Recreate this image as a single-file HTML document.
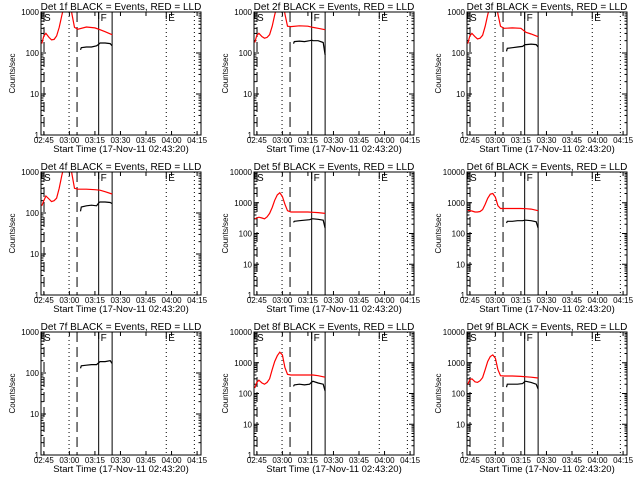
<!DOCTYPE html>
<html><head><meta charset="utf-8"><style>
html,body{margin:0;padding:0;background:#fff;}
svg{display:block;}
text{font-family:"Liberation Sans",sans-serif;}
</style></head><body>
<svg id="chart" width="640" height="480" viewBox="0 0 640 480" xmlns="http://www.w3.org/2000/svg"></svg>
<script>
const detNames = ["1f","2f","3f","4f","5f","6f","7f","8f","9f"];
const yMaxes = [1000,1000,1000,1000,10000,10000,1000,10000,10000];
const xTickLabels = ["02:45","03:00","03:15","03:30","03:45","04:00","04:15"];
const xTickMinutes = [0,15,30,45,60,75,90];
const dashedLines = [0.1,19.5];
const dottedLines = [14.8,71.9,88.4];
const solidLines = [32.2,40.1];
const tRed = [-1.2,0,1.2,3,4.5,6,7.5,9,10.5,12,13.5,15,16.5,18,20,25,30,33,36,40.1];
const tBlack = [21.5,22,25,28,31,32.4,33,36,39,40.1];
const red1 = [170,260,300,240,210,215,260,420,800,1500,3000,3000,900,420,380,430,410,370,330,280];
const red2 = [180,270,300,250,230,240,280,450,850,1500,3000,3000,900,450,440,460,450,420,400,370];
const red3 = [170,260,300,250,220,230,270,450,850,1500,3000,3000,900,450,400,410,400,320,290,250];
const red4 = [150,200,260,220,190,200,230,400,800,1500,3000,3000,900,400,380,380,370,360,330,290];
const red5 = [300,320,340,320,300,350,450,700,1200,1800,2100,1600,900,550,500,500,500,490,480,450];
const red6 = [560,550,540,500,500,520,600,900,1400,1900,2000,1500,800,650,650,650,650,640,620,550];
const red7 = [];
const red8 = [150,230,270,220,200,230,300,600,1100,1700,2200,1800,700,420,400,400,400,400,380,340];
const red9 = [200,280,300,240,230,260,330,600,1100,1600,1800,1400,600,380,370,370,360,350,340,320];
const black1 = [120,135,140,140,150,165,175,175,170,150];
const black2 = [170,190,195,190,200,205,200,200,180,90];
const black3 = [110,130,135,140,145,160,160,165,160,140];
const black4 = [110,140,150,155,150,180,185,185,180,170];
const black5 = [230,250,260,270,280,300,300,290,270,150];
const black6 = [220,250,250,260,260,270,270,260,240,150];
const black7 = [130,150,155,160,160,180,190,190,200,170];
const black8 = [170,190,200,190,200,240,250,220,200,120];
const black9 = [160,200,200,200,210,250,250,230,200,140];
const reds = [red1,red2,red3,red4,red5,red6,red7,red8,red9];
const blacks = [black1,black2,black3,black4,black5,black6,black7,black8,black9];

const NS = "http://www.w3.org/2000/svg";
const svg = document.getElementById("chart");
function mk(tag, attrs, parent){
  const e = document.createElementNS(NS, tag);
  for (const k in attrs) e.setAttribute(k, attrs[k]);
  (parent||svg).appendChild(e);
  return e;
}
const T0 = -1.67, T1 = 92.3;
for (let p = 0; p < 9; p++) {
  const col = p % 3, row = Math.floor(p / 3);
  const L = 41 + col * 213, R = L + 160, Tp = 12 + row * 160, B = Tp + 123;
  const yMax = yMaxes[p];
  const decades = Math.round(Math.log10(yMax));
  const xs = t => L + (t - T0) / (T1 - T0) * (R - L);
  const ys = v => B - Math.log10(v) / decades * (B - Tp);
  const g = mk("g", {});
  
  
  const cp = mk("clipPath", {id: "cp" + p}, g);
  mk("rect", {x: L, y: Tp, width: R - L, height: B - Tp}, cp);

  const title = mk("text", {x: (L + R) / 2, y: Tp - 2, "text-anchor": "middle", "font-size": "10"}, g);
  title.textContent = "Det " + detNames[p] + " BLACK = Events, RED = LLD";
  
  

  const yt = mk("text", {x: 0, y: 0, "text-anchor": "middle", "font-size": "8", transform: "translate(" + (L - 26) + "," + ((Tp + B) / 2) + ") rotate(-90)"}, g);
  yt.textContent = "Counts/sec";
  
  

  const xt = mk("text", {x: (L + R) / 2, y: B + 17, "text-anchor": "middle", "font-size": "9.5"}, g);
  xt.textContent = "Start Time (17-Nov-11 02:43:20)";
  
  

  for (let d = 0; d <= decades; d++) {
    const v = Math.pow(10, d), y = ys(v);
    mk("line", {x1: L, x2: L + 5, y1: y, y2: y, stroke: "#000"}, g);
    mk("line", {x1: R, x2: R - 5, y1: y, y2: y, stroke: "#000"}, g);
    const lab = mk("text", {x: L - 2, y: y + 3, "text-anchor": "end", "font-size": "8"}, g);
    lab.textContent = String(v);
    
    
    if (d < decades) for (let m = 2; m <= 9; m++) {
      const ym = ys(v * m);
      mk("line", {x1: L, x2: L + 2.5, y1: ym, y2: ym, stroke: "#000"}, g);
      mk("line", {x1: R, x2: R - 2.5, y1: ym, y2: ym, stroke: "#000"}, g);
    }
  }
  for (let i = 0; i < xTickMinutes.length; i++) {
    const x = xs(xTickMinutes[i]);
    mk("line", {x1: x, x2: x, y1: B, y2: B - 4, stroke: "#000"}, g);
    mk("line", {x1: x, x2: x, y1: Tp, y2: Tp + 4, stroke: "#000"}, g);
    const lab = mk("text", {x: x, y: B + 8, "text-anchor": "middle", "font-size": "8"}, g);
    lab.textContent = xTickLabels[i];
    
    
  }
  dashedLines.forEach(t => mk("line", {x1: xs(t), x2: xs(t), y1: Tp, y2: B, stroke: "#000", "stroke-dasharray": "10,5"}, g));
  dottedLines.forEach(t => mk("line", {x1: xs(t), x2: xs(t), y1: Tp, y2: B, stroke: "#000", "stroke-dasharray": "1,3"}, g));
  solidLines.forEach(t => mk("line", {x1: xs(t), x2: xs(t), y1: Tp, y2: B, stroke: "#000"}, g));
  [["S", L + 1], ["F", xs(solidLines[0])], ["E", xs(dottedLines[1])]].forEach(([ch, x]) => {
    mk("path", {d: "M" + x + "," + (Tp + 7) + " V" + Tp + " H" + (x + 10), fill: "none", stroke: "#000"}, g);
    const t = mk("text", {x: x + 2, y: Tp + 9, "font-size": "10"}, g);
    t.textContent = ch;
    
    
  });
  const rv = reds[p];
  if (rv.length) {
    const pts = rv.map((v, i) => xs(tRed[i]).toFixed(1) + "," + ys(v).toFixed(1)).join(" ");
    const pl = mk("polyline", {points: pts, fill: "none", stroke: "#ff0000", "stroke-width": "1.2", "clip-path": "url(#cp" + p + ")"}, g);
    
    
  }
  const bv = blacks[p];
  const bpts = bv.map((v, i) => xs(tBlack[i]).toFixed(1) + "," + ys(v).toFixed(1)).join(" ");
  const bl = mk("polyline", {points: bpts, fill: "none", stroke: "#000", "stroke-width": "1.2", "clip-path": "url(#cp" + p + ")"}, g);
  
  
  const fr = mk("rect", {x: L, y: Tp, width: R - L, height: B - Tp, fill: "none", stroke: "#000"}, g);
  
  
}
</script>
</body></html>
